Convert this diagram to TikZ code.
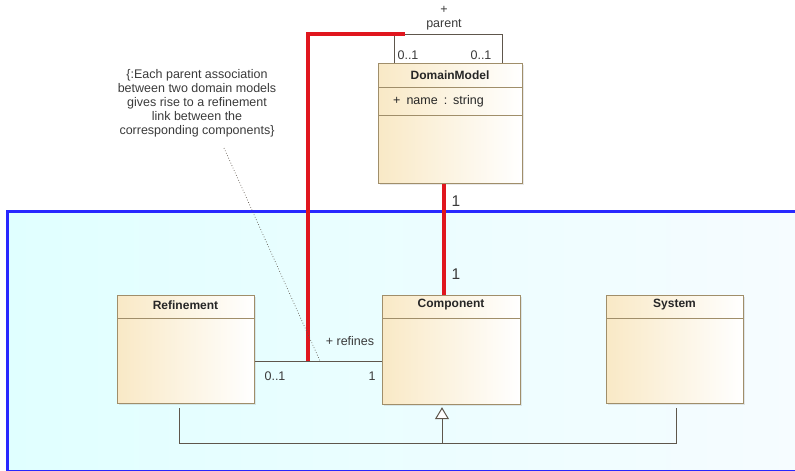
\documentclass[tikz,border=0pt]{standalone}
\usepackage{fontspec}
\setmainfont{Liberation Sans}
\usetikzlibrary{arrows.meta,calc,shadows}
\definecolor{frameblue}{HTML}{2828FF}
\definecolor{framefillL}{HTML}{E0FFFF}
\definecolor{framefillR}{HTML}{F6FCFF}
\definecolor{classfill}{HTML}{F9E9C6}
\definecolor{classline}{HTML}{A08E6A}
\definecolor{linkred}{HTML}{E0161E}
\definecolor{linkgray}{HTML}{5E564C}
\definecolor{textgray}{HTML}{3A3A3A}
\begin{document}
\begin{tikzpicture}[x=1pt,y=-1pt,
  classbox/.style={draw=classline, line width=1.2pt, left color=classfill, right color=white,
    anchor=north west, inner sep=0pt,
    drop shadow={opacity=0.18, shadow xshift=1.5pt, shadow yshift=-1.5pt}},
  divider/.style={draw=classline, line width=1pt},
  classtitle/.style={font=\fontsize{12}{14}\selectfont\bfseries, text=black!85, inner sep=0pt},
  lbl/.style={font=\fontsize{12.5}{14}\selectfont, text=textgray, inner sep=0pt},
  mult/.style={font=\fontsize{15.5}{17}\selectfont, text=textgray, inner sep=0pt},
  assoc/.style={draw=linkgray, line width=1pt},
  redlink/.style={draw=linkred, line width=3.5pt},
  notelink/.style={draw=linkgray, line width=0.7pt, dotted}]
\useasboundingbox (0,0) rectangle (795,471);

% package frame
\draw[draw=frameblue, line width=3.8pt, left color=framefillL, right color=framefillR]
  (7.5,211.5) rectangle (796.5,472);

% classes
\node[classbox, minimum width=144pt, minimum height=120pt] (dm) at (378,63) {};
\node[classtitle] (dmt) at (450,75) {DomainModel};
\draw[divider] (dm.west |- 0,87) -- (dm.east |- 0,87);
\draw[divider] (dm.west |- 0,115) -- (dm.east |- 0,115);
\node[lbl, anchor=west, text=black!85] (dma) at (393,101)
  {+\hspace{6pt}name\hspace{6pt}:\hspace{6pt}string};

\node[classbox, minimum width=138pt, minimum height=109pt] (comp) at (382,295) {};
\node[classtitle] (compt) at (451,305) {Component};
\draw[divider] (comp.west |- 0,318) -- (comp.east |- 0,318);

\node[classbox, minimum width=137pt, minimum height=108pt] (ref) at (117,295) {};
\node[classtitle] (reft) at (185.5,305) {Refinement};
\draw[divider] (ref.west |- 0,318) -- (ref.east |- 0,318);

\node[classbox, minimum width=137pt, minimum height=108pt] (sys) at (606,295) {};
\node[classtitle] (syst) at (674.5,305) {System};
\draw[divider] (sys.west |- 0,318) -- (sys.east |- 0,318);

% refines association
\draw[assoc] (ref.east |- 0,361) -- (comp.west |- 0,361);
\node[lbl] (lrefines) at (350,341) {+ refines};
\node[lbl] (lref01) at (275,376) {0..1};
\node[lbl] (lref1) at (372,376) {1};

% parent self association
\coordinate (ploopL) at ($(dm.north west)+(16,0)$);
\coordinate (ploopR) at ($(dm.north east)+(-21,0)$);
\draw[assoc] (ploopL) -- (ploopL |- 0,34) -| (ploopR);
\node[lbl] (lplus) at (444,10) {+};
\node[lbl] (lparent) at (444,25) {parent};
\node[lbl] (lp01a) at (408,55) {0..1};
\node[lbl] (lp01b) at (481,55) {0..1};

% composition between domain model and component
\coordinate (dmbot) at (dm.south -| 444,0);
\coordinate (comptop) at (comp.north -| 444,0);
\draw[redlink] (dmbot) -- (comptop);
\node[mult] (ld1) at (456,201) {1};
\node[mult] (lc1) at (456,274) {1};

% highlighted trace from parent to refines
\coordinate (ptrace) at (405,34);
\coordinate (rtrace) at (308,361);
\draw[redlink] (ptrace) -- (ptrace -| rtrace) -- (rtrace);

% constraint note
\node[lbl, align=center] (note) at (197,103)
  {\{:Each parent association\\between two domain models\\gives rise to a refinement\\link between the\\corresponding components\}};
\coordinate (noteend) at (320,361);
\draw[notelink] (224,148) -- (noteend);

% generalization
\coordinate (gtip) at (comp.south -| 442,0);
\coordinate (gbus) at (442,443);
\draw[assoc] ($(ref.south -| 179,0)+(0,4)$) |- (gbus);
\draw[assoc] ($(sys.south -| 676,0)+(0,4)$) |- (gbus);
\draw[assoc, -{Triangle[open, width=14pt, length=12pt, fill=white]}] (gbus) -- ($(gtip)+(0,2)$);
\end{tikzpicture}
\end{document}
